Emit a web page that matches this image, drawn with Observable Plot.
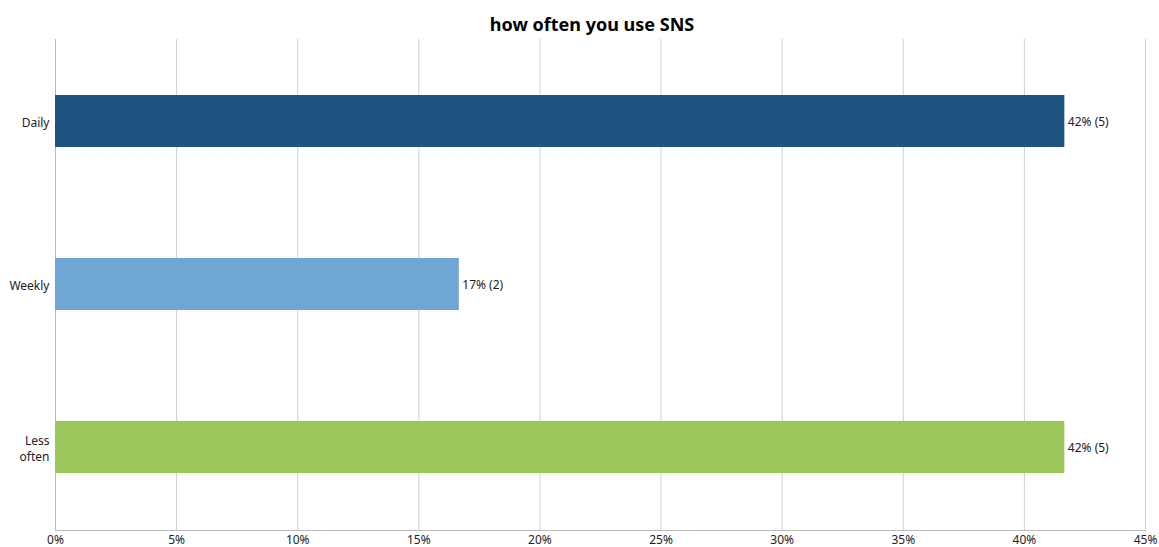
<!DOCTYPE html>
<html>
<head>
<meta charset="utf-8">
<script src="https://cdn.jsdelivr.net/npm/d3@7"></script>
<script src="https://cdn.jsdelivr.net/npm/@observablehq/plot@0.6"></script>
<style>
  html, body { margin: 0; padding: 0; background: #fff; }
  body { width: 1159px; height: 547px; overflow: hidden; font-family: "Noto Sans", "Open Sans", sans-serif; }
  #title { height: 39px; line-height: 48px; text-align: center; font-weight: bold; font-size: 18px; color: #000; box-sizing: border-box; padding-left: 25px; }
  #chart svg { display: block; }
</style>
</head>
<body>
<div id="title">how often you use SNS</div>
<div id="chart"></div>
<script>
const categories = ["Daily", "Weekly", "Less often"];
const tickLabels = ["Daily", "Weekly", "Less\noften"];
const percents = [41.67, 16.67, 41.67];
const counts = [5, 2, 5];
const valueLabels = ["42% (5)", "17% (2)", "42% (5)"];
const colors = ["#1f5380", "#6fa6d3", "#9bc65a"];
const xTicks = [0, 5, 10, 15, 20, 25, 30, 35, 40, 45];

const data = categories.map((c, i) => ({cat: c, pct: percents[i], n: counts[i], label: valueLabels[i]}));

const chart = Plot.plot({
  width: 1159,
  height: 508,
  marginTop: 0,
  marginBottom: 17,
  marginLeft: 55,
  marginRight: 14,
  style: {fontFamily: "'Noto Sans', 'Open Sans', sans-serif", fontSize: "12px", color: "#222", background: "#fff"},
  x: {domain: [0, 45], label: null},
  y: {domain: categories, paddingInner: 0.68, paddingOuter: 0.34, label: null},
  color: {domain: categories, range: colors},
  marks: [
    Plot.ruleX(xTicks, {stroke: "#d0d0d0", strokeWidth: 1, strokeOpacity: 1}),
    Plot.ruleX([0], {stroke: "#b8b8b8", strokeWidth: 1}),
    Plot.barX(data, {x: "pct", y: "cat", fill: "cat"}),
    Plot.text(data, {x: "pct", y: "cat", text: "label", textAnchor: "start", dx: 3, dy: 1, fill: "#222", fontSize: 12}),
    Plot.frame({anchor: "bottom", stroke: "#bcbcbc"}),
    Plot.axisX({ticks: xTicks, tickFormat: d => d + "%", tickSize: 0, tickPadding: 5, label: null}),
    Plot.axisY({tickSize: 0, tickPadding: 6, label: null, lineHeight: 1.35, tickFormat: d => tickLabels[categories.indexOf(d)]})
  ]
});
document.getElementById("chart").appendChild(chart);
</script>
</body>
</html>
